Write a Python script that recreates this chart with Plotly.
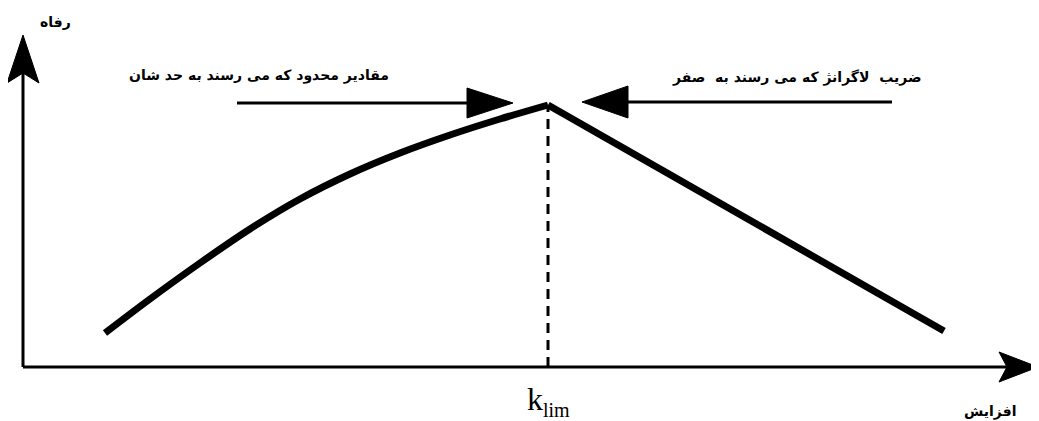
import plotly.graph_objects as go

# ---- data (x = "increase", y = "welfare"), in chart units ----
welfare_x = [8.2, 12.7, 17.7, 22.7, 27.7, 32.7, 37.7, 42.7, 47.7, 52.5, 92.1]
welfare_y = [3.4, 6.8, 10.4, 13.8, 16.8, 19.3, 21.4, 23.2, 24.8, 26.2, 3.6]
k_lim = 52.5
peak_welfare = 26.2
axis_x_end = 101.5
axis_y_end = 33.2
left_arrow_x = [21.4, 49.0]
left_arrow_y = [26.4, 26.4]
right_arrow_x = [86.9, 55.9]
right_arrow_y = [26.5, 26.5]

label_y_axis = "رفاه"
label_x_axis = "افزایش"
label_left = "مقادیر محدود که می رسند به حد شان"
label_right = "ضریب\u00a0\u00a0لاگرانژ که می رسند به\u00a0\u00a0صفر"
label_k = "k<sub><span style='font-size:20px'>lim</span></sub>"

# page body has an 8px margin, so the figure is drawn 8px smaller and the ranges offset
W, H = 1031, 413
X_RANGE = [-1.5, 101.6]
Y_RANGE = [-5.4, 35.9]

fig = go.Figure()

BLACK = "#000000"

# axes
fig.add_trace(go.Scatter(x=[0, 0], y=[0, axis_y_end - 2.0], mode="lines",
                         line=dict(color=BLACK, width=3), hoverinfo="skip"))
fig.add_trace(go.Scatter(x=[0, axis_x_end - 2.0], y=[0, 0], mode="lines",
                         line=dict(color=BLACK, width=3), hoverinfo="skip"))
# dashed line at k_lim
fig.add_trace(go.Scatter(x=[k_lim, k_lim], y=[0, peak_welfare], mode="lines",
                         line=dict(color=BLACK, width=3, dash="10px,7px"), hoverinfo="skip"))
# welfare curve
fig.add_trace(go.Scatter(x=welfare_x[:-1], y=welfare_y[:-1], mode="lines",
                         line=dict(color=BLACK, width=7, shape="spline", smoothing=0.8),
                         hoverinfo="skip"))
fig.add_trace(go.Scatter(x=welfare_x[-2:], y=welfare_y[-2:], mode="lines",
                         line=dict(color=BLACK, width=7), hoverinfo="skip"))
# annotation arrow shafts
fig.add_trace(go.Scatter(x=[left_arrow_x[0], left_arrow_x[1] - 3.0], y=left_arrow_y, mode="lines",
                         line=dict(color=BLACK, width=3), hoverinfo="skip"))
fig.add_trace(go.Scatter(x=[right_arrow_x[0], right_arrow_x[1] + 3.0], y=right_arrow_y, mode="lines",
                         line=dict(color=BLACK, width=3), hoverinfo="skip"))


def head(tx, ty, dx, dy, length, half_w, notch):
    nx, ny = -dy, dx
    bx, by = tx - length * dx, ty - length * dy
    mx, my = tx - (length - notch) * dx, ty - (length - notch) * dy
    return (f"M{tx},{ty} L{bx + half_w * nx},{by + half_w * ny} "
            f"L{mx},{my} L{bx - half_w * nx},{by - half_w * ny} Z")


heads = [
    head(0, axis_y_end, 0, 1, 4.8, 1.6, 1.0),
    head(axis_x_end, 0, 1, 0, 3.9, 1.5, 0.8),
    head(left_arrow_x[1], left_arrow_y[1], 1, 0, 4.6, 1.5, 0.0),
    head(right_arrow_x[1], right_arrow_y[1], -1, 0, 4.6, 1.6, 0.0),
]
for p in heads:
    fig.add_shape(type="path", path=p, xref="x", yref="y",
                  fillcolor=BLACK, line=dict(color=BLACK, width=1))

AR_FONT = dict(family="DejaVu Sans", size=14, color=BLACK, weight="bold")
fig.add_annotation(x=3.2, y=34.5, text=label_y_axis, showarrow=False, font=AR_FONT)
fig.add_annotation(x=96.7, y=-4.4, text=label_x_axis, showarrow=False, font=AR_FONT)
fig.add_annotation(x=23.6, y=29.2, text=label_left, showarrow=False, font=AR_FONT)
fig.add_annotation(x=77.4, y=29.0, text=label_right, showarrow=False, font=AR_FONT)
fig.add_annotation(x=k_lim, y=-3.4, text=label_k, showarrow=False,
                   font=dict(family="Liberation Serif", size=32, color=BLACK))

fig.update_layout(
    width=W, height=H,
    margin=dict(l=0, r=0, t=0, b=0),
    paper_bgcolor="white", plot_bgcolor="white",
    showlegend=False,
    xaxis=dict(range=X_RANGE, visible=False, fixedrange=True),
    yaxis=dict(range=Y_RANGE, visible=False, fixedrange=True),
)

fig.write_html("out.html")
